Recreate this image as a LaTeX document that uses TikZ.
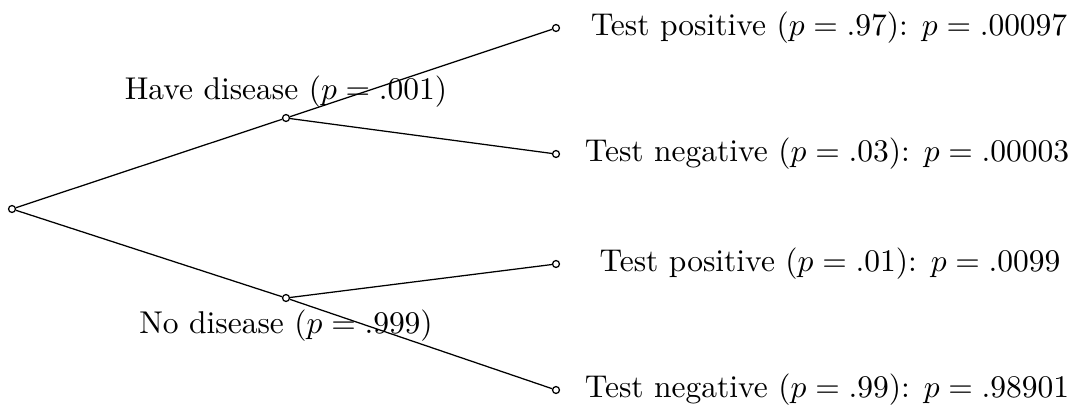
\documentclass[tikz,border=0pt]{standalone}
\begin{document}
\begin{tikzpicture}[x=0.3175pt,y=-0.3175pt,
  dot/.style={circle,draw,inner sep=0pt,minimum size=2.2pt},
  leaflabel/.style={inner sep=0pt,anchor=center},
  edge/.style={draw,line width=0.4pt}]
\useasboundingbox (0,0) rectangle (1072,405);
\node[dot] (root) at (12,209) {};
\node[dot] (have) at (286,118) {};
\node[dot] (no) at (286,298) {};
\node[dot] (l1) at (556,28) {};
\node[dot] (l2) at (556,154) {};
\node[dot] (l3) at (556,264) {};
\node[dot] (l4) at (556,390) {};
\node[inner sep=0pt] (th) at (286,92) {Have disease ($p=.001$)};
\node[inner sep=0pt] (tn) at (286,326) {No disease ($p=.999$)};
\node[leaflabel] (t1) at (829,28) {Test positive ($p=.97$): $p=.00097$};
\node[leaflabel] (t2) at (827,154) {Test negative ($p=.03$): $p=.00003$};
\node[leaflabel] (t3) at (830,264) {Test positive ($p=.01$): $p=.0099$};
\node[leaflabel] (t4) at (827,390) {Test negative ($p=.99$): $p=.98901$};
\path[edge] (root) -- (have);
\path[edge] (root) -- (no);
\path[edge] (have) -- (l1);
\path[edge] (have) -- (l2);
\path[edge] (no) -- (l3);
\path[edge] (no) -- (l4);
\end{tikzpicture}
\end{document}
